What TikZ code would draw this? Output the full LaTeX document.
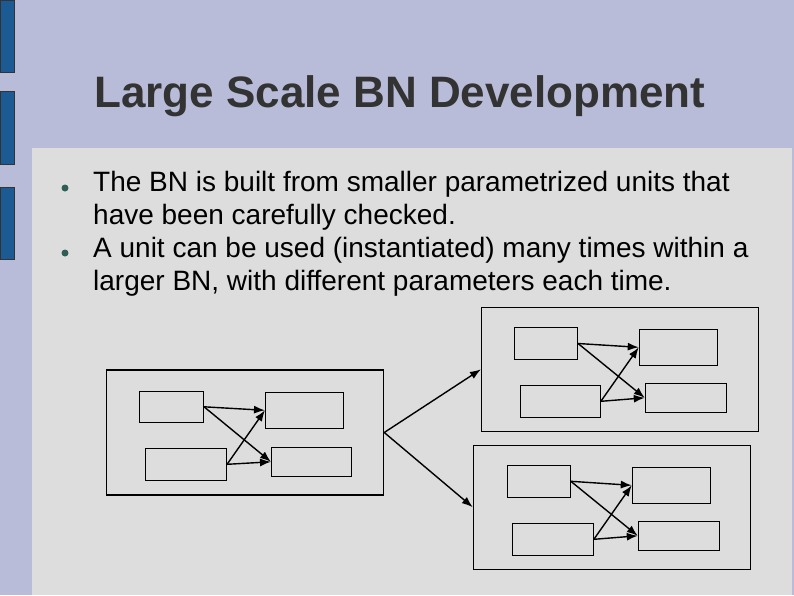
\documentclass[tikz,border=0pt]{standalone}
\usepackage{fontspec}
\setmainfont{Liberation Sans}
\usepackage{xcolor}
\usetikzlibrary{arrows.meta,positioning}

\definecolor{slidebg}{HTML}{B8BCD9}
\definecolor{bodybg}{HTML}{DDDDDD}
\definecolor{barblue}{HTML}{1C5A94}
\definecolor{titlegrey}{HTML}{333333}
\definecolor{dotgreen}{HTML}{2E5E55}

\tikzset{
  unitbox/.style={rectangle, draw, line width=1.1pt, inner sep=0pt, minimum width=277pt, minimum height=124pt},
  varbox/.style={rectangle, draw, line width=1.1pt, inner sep=0pt},
  link/.style={line width=1.4pt, -{Latex[length=11pt,width=8pt]}},
  bodytext/.style={anchor=base west, inner sep=0pt, font=\fontsize{28}{32}\selectfont},
  bulletdot/.style={circle, fill=dotgreen, inner sep=0pt, minimum size=7pt}
}

\begin{document}
\begin{tikzpicture}[x=1pt, y=-1pt]
\useasboundingbox (0,0) rectangle (794,595);
\fill[slidebg] (0,0) rectangle (794,595);
\fill[bodybg] (32,148) rectangle (792,595);

% side bars
\foreach \ya/\yb in {0/72, 91/164, 187/259}
  \filldraw[fill=barblue, draw=black!80, line width=0.8pt] (0,\ya) rectangle (14,\yb);

\node[anchor=base west, inner sep=0pt, text=titlegrey, font=\fontsize{44}{48}\selectfont\bfseries] (title) at (94,107) {Large Scale BN Development};

\node[bulletdot] (bul1) at (65,188) {};
\node[bulletdot] (bul2) at (65,253) {};
\node[bodytext] (line1) at (93,191.7) {The BN is built from smaller parametrized units that};
\node[bodytext] (line2) at (93,224.5) {have been carefully checked.};
\node[bodytext] (line3) at (93,257) {A unit can be used (instantiated) many times within a};
\node[bodytext] (line4) at (93,290) {larger BN, with different parameters each time.};

% left unit
\node[unitbox, minimum height=125pt] (big) at (245.2,432.5) {};
\node[varbox, minimum width=64pt, minimum height=31pt] (bigA) at (171.5,406.8) {};
\node[varbox, minimum width=81pt, minimum height=32pt] (bigB) at (186,464.3) {};
\node[varbox, minimum width=78pt, minimum height=36pt] (bigC) at (304.5,410.3) {};
\node[varbox, minimum width=80pt, minimum height=29pt] (bigD) at (311.5,461.8) {};

\draw[link] (bigA.east) -- (bigC.west);
\draw[link] (bigA.east) -- (bigD.west);
\draw[link] (bigB.east) -- (bigC.west);
\draw[link] (bigB.east) -- (bigD.west);

% upper copy
\node[unitbox] (top) at (620,369.3) {};
\node[varbox, minimum width=63pt, minimum height=32pt] (topA) at (546,343.5) {};
\node[varbox, minimum width=80pt, minimum height=32pt] (topB) at (560.3,401.3) {};
\node[varbox, minimum width=78pt, minimum height=36pt] (topC) at (678.3,347.3) {};
\node[varbox, minimum width=81pt, minimum height=29pt] (topD) at (685.8,397.8) {};

\draw[link] (topA.east) -- (topC.west);
\draw[link] (topA.east) -- (topD.west);
\draw[link] (topB.east) -- (topC.west);
\draw[link] (topB.east) -- (topD.west);

% lower copy
\node[unitbox] (bot) at (611.8,507.2) {};
\node[varbox, minimum width=63pt, minimum height=32pt] (botA) at (538.8,481.3) {};
\node[varbox, minimum width=81pt, minimum height=32pt] (botB) at (552.8,539.3) {};
\node[varbox, minimum width=78pt, minimum height=36pt] (botC) at (671.3,485.3) {};
\node[varbox, minimum width=81pt, minimum height=29pt] (botD) at (678.8,535.8) {};

\draw[link] (botA.east) -- (botC.west);
\draw[link] (botA.east) -- (botD.west);
\draw[link] (botB.east) -- (botC.west);
\draw[link] (botB.east) -- (botD.west);

% instantiation
\draw[link] (big.east) -- (top.west);
\draw[link] (big.east) -- (bot.west);
\end{tikzpicture}
\end{document}
